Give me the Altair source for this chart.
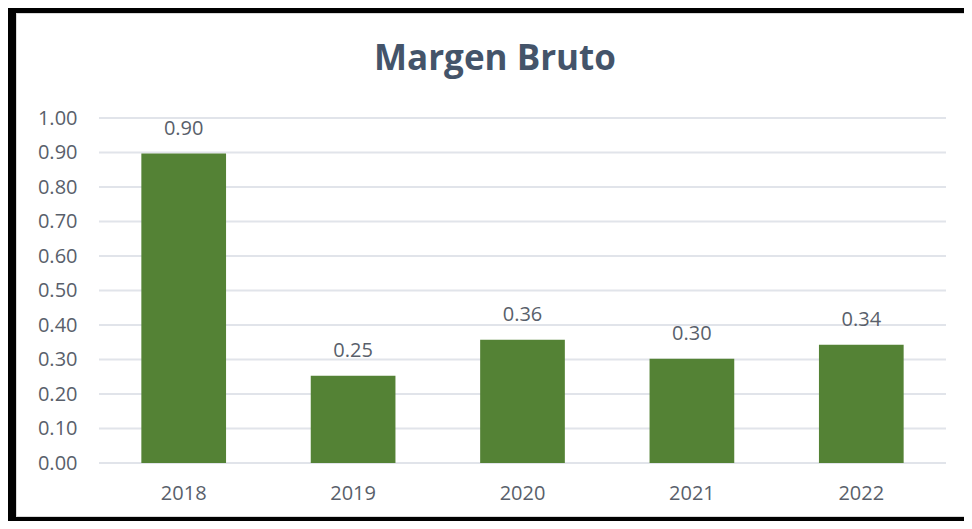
import altair as alt
import pandas as pd

years = ["2018", "2019", "2020", "2021", "2022"]
margins = [0.897, 0.253, 0.357, 0.302, 0.343]
y_ticks = [0.0, 0.1, 0.2, 0.3, 0.4, 0.5, 0.6, 0.7, 0.8, 0.9, 1.0]
title_text = "Margen Bruto"

FONT = "Open Sans"
BAR = "#548235"
LABEL = "#595f6b"
GRID = "#e1e4ea"

W, H = 847, 345
PL, PT, PR, PB = 91, 110, 18, 58

df = pd.DataFrame({"year": years, "value": margins})
grid_df = pd.DataFrame({"v": y_ticks})

yscale = alt.Scale(domain=[0, 1], nice=False)
yaxis = alt.Axis(values=y_ticks, format=".2f", labelOverlap=False,
                 labelFont=FONT, labelFontSize=20, labelColor=LABEL,
                 labelPadding=22, ticks=False, domain=False, grid=False)

x = alt.X("year:N", sort=years, title=None,
          scale=alt.Scale(paddingInner=0.5, paddingOuter=0.25),
          axis=alt.Axis(labelAngle=0, labelFont=FONT, labelFontSize=20, labelColor=LABEL,
                        labelPadding=20, ticks=False, domain=False, grid=False))

grid = alt.Chart(grid_df).mark_rule(color=GRID, strokeWidth=2).encode(
    y=alt.Y("v:Q", scale=yscale, axis=yaxis, title=None))
bars = alt.Chart(df).mark_bar(color=BAR).encode(
    x=x, y=alt.Y("value:Q", scale=yscale, axis=yaxis, title=None))
labels = alt.Chart(df).mark_text(font=FONT, fontSize=20, color=LABEL, baseline="alphabetic", dy=-19).encode(
    x=x, y=alt.Y("value:Q", scale=yscale, axis=yaxis, title=None),
    text=alt.Text("value:Q", format=".2f"))

title = alt.Chart(pd.DataFrame({"t": [title_text]})).mark_text(
    font=FONT, fontSize=35, fontWeight="bold", color="#44546a", baseline="alphabetic", align="center"
).encode(text="t:N", x=alt.value(396), y=alt.value(-48))

one = pd.DataFrame({"a": [0]})
frame_left = alt.Chart(one).mark_rule(color="black", strokeWidth=8).encode(
    x=alt.value(-87), y=alt.value(-PT), y2=alt.value(H + PB))
frame_top = alt.Chart(one).mark_rule(color="black", strokeWidth=5).encode(
    x=alt.value(-PL), x2=alt.value(W + PR), y=alt.value(-107.5))
frame_bottom = alt.Chart(one).mark_rule(color="black", strokeWidth=4).encode(
    x=alt.value(-PL), x2=alt.value(W + PR), y=alt.value(H + PB - 2))
inner_top = alt.Chart(one).mark_rule(color="#d9d9d9", strokeWidth=1).encode(
    x=alt.value(-83), x2=alt.value(W + PR), y=alt.value(-104.5))
inner_left = alt.Chart(one).mark_rule(color="#d9d9d9", strokeWidth=1).encode(
    x=alt.value(-82.5), y=alt.value(-105), y2=alt.value(H + PB - 4))
inner_bottom = alt.Chart(one).mark_rule(color="#d9d9d9", strokeWidth=1).encode(
    x=alt.value(-83), x2=alt.value(W + PR), y=alt.value(H + PB - 4.5))

chart = alt.layer(grid, bars, labels, title, frame_left, frame_top, frame_bottom,
                  inner_top, inner_left, inner_bottom).properties(
    width=W, height=H,
    padding={"left": PL, "top": PT, "right": PR, "bottom": PB},
    autosize=alt.AutoSizeParams(type="none"),
    background="white",
).configure_view(stroke=None)

chart.save("out.html", embed_options={"renderer": "svg", "actions": False})
